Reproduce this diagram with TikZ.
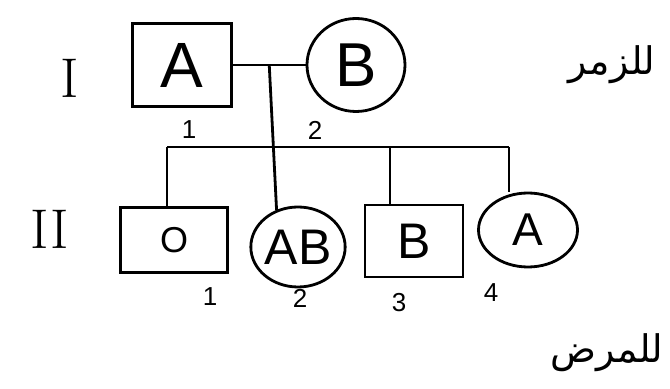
\documentclass[tikz,border=0pt]{standalone}
\usepackage{fontspec}
\setsansfont{Liberation Sans}
\newfontfamily\arabicfont[Script=Arabic]{DejaVu Sans}
\TeXXeTstate=1
\usetikzlibrary{shapes,calc,positioning}

\begin{document}
\begin{tikzpicture}[x=0.5pt,y=-0.5pt,line width=1.4pt,
  every node/.append style={inner sep=0pt}]
  \tikzstyle{male} = [draw,rectangle,font=\sffamily\fontsize{25}{25}\selectfont]
  \tikzstyle{female} = [draw,ellipse,font=\sffamily\fontsize{25}{25}\selectfont]
  \tikzstyle{num} = [font=\sffamily\fontsize{13}{13}\selectfont]
  \tikzstyle{gen} = [font=\rmfamily\fontsize{28}{28}\selectfont]
  \tikzstyle{arab} = [font=\arabicfont\fontsize{19}{19}\selectfont]
  \useasboundingbox (0,0) rectangle (670,389);
  % generation I
  \node (g1) [gen] at (70,78) {I};
  \node (1_1) [male,minimum width=49.5pt,minimum height=41.5pt,font=\sffamily\fontsize{32}{32}\selectfont] at (182,65) {A};
  \node (1_2) [female,minimum width=49pt,minimum height=46.5pt,font=\sffamily\fontsize{31}{31}\selectfont] at (356,65) {B};
  \node (n1_1) [num] at (189,130) {1};
  \node (n1_2) [num] at (315,130) {2};
  % generation II
  \node (g2) [gen] at (50,229) {II};
  \node (2_1) [male,minimum width=53.5pt,minimum height=32.5pt,font=\sffamily\fontsize{18}{18}\selectfont] at (174,240) {O};
  \node (2_2) [female,minimum width=45pt,minimum height=40pt] at (298,247) {AB};
  \node (2_3) [male,minimum width=49pt,minimum height=36pt] at (414,241) {B};
  \node (2_4) [female,minimum width=49.5pt,minimum height=37pt,font=\sffamily\fontsize{23}{23}\selectfont] at (528,230) {A};
  \node (n2_1) [num] at (210,297) {1};
  \node (n2_2) [num] at (300,298) {2};
  \node (n2_3) [num] at (399,303) {3};
  \node (n2_4) [num] at (491,293) {4};
  % side notes
  \node (t1) [arab] at (612,65) {\beginR للزمر\endR};
  \node (t2) [arab] at (607,353) {\beginR للمرض\endR};
  % lines
  \coordinate (m) at ($(1_1.east)!0.5!(1_2.west)$);
  \coordinate (s1) at (167,147);
  \coordinate (s3) at (390,147);
  \coordinate (s4) at (509,147);
  \draw (1_1.east) -- (1_2.west);
  \draw (m) -- (2_2.120);
  \draw (s1) -- (s4);
  \draw (s1) -- (s1 |- 2_1.north);
  \draw (s3) -- (s3 |- 2_3.north);
  \draw (s4) -- (s4 |- 2_4.north);
\end{tikzpicture}
\end{document}
